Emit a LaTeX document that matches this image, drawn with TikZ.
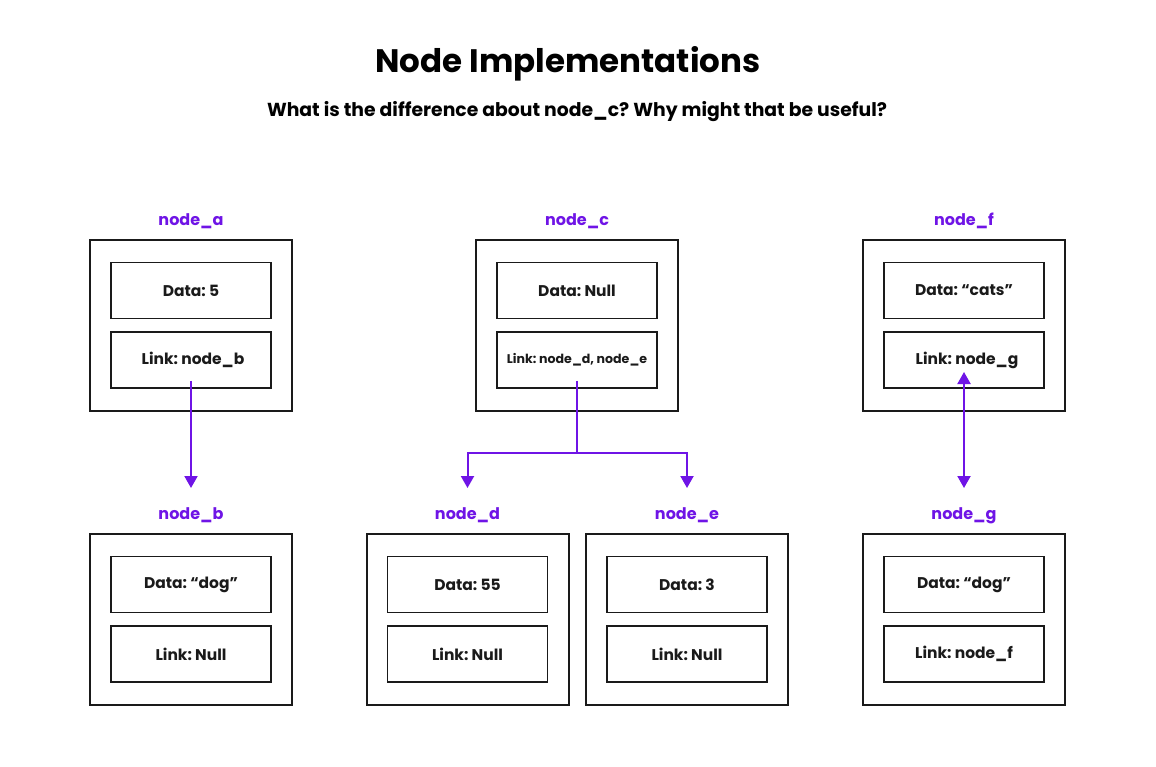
\documentclass[tikz,border=0pt]{standalone}
\usepackage{fontspec}
\setmainfont{Poppins}
\usetikzlibrary{arrows.meta}
\frenchspacing
\definecolor{purp}{HTML}{6F14E6}
\definecolor{ink}{HTML}{1A1A1A}
\tikzset{
  outerbox/.style={draw=ink, line width=2pt, minimum width=202pt, minimum height=171pt, inner sep=0pt},
  fieldbox/.style={draw=ink, line width=1.8pt, minimum width=160pt, minimum height=56pt, inner sep=0pt, text=ink, font=\fontsize{15.5}{18}\selectfont\bfseries},
  smallfield/.style={fieldbox, font=\fontsize{12.6}{15}\selectfont\bfseries},
  nlabel/.style={text=purp, inner sep=0pt, anchor=base, font=\fontsize{16}{19}\selectfont\bfseries},
  conn/.style={draw=purp, line width=2pt, -{Triangle[width=13pt,length=12pt]}},
  dconn/.style={draw=purp, line width=2pt, {Triangle[width=13pt,length=12pt]}-{Triangle[width=13pt,length=12pt]}}
}
\begin{document}
\begin{tikzpicture}[x=1pt,y=-1pt]
\path[fill=white] (0,0) rectangle (1156,766);
\useasboundingbox (0,0) rectangle (1156,766);
% titles
\node[text=black, inner sep=0pt, anchor=base, font=\fontsize{32.5}{38}\selectfont\bfseries] (title) at (568,72) {Node Implementations};
\node[text=black, inner sep=0pt, anchor=base, font=\fontsize{18.8}{22}\selectfont\bfseries] (subtitle) at (577,116) {What is the difference about node\_c? Why might that be useful?};
% node_a
\node[nlabel] (lbla) at (191,225) {node\_a};
\node[outerbox] (oa) at (191,325.5) {};
\node[fieldbox] (da) at (191,290.5) {Data: 5};
\node[fieldbox] (la) at (191,360) {\hspace{4pt}Link: node\_b};
% node_b
\node[nlabel] (lblb) at (191,519) {node\_b};
\node[outerbox] (ob) at (191,619.5) {};
\node[fieldbox] (db) at (191,584.5) {Data: “dog”};
\node[fieldbox] (lb) at (191,654) {Link: Null};
% node_c
\node[nlabel] (lblc) at (577,225) {node\_c};
\node[outerbox] (oc) at (577,325.5) {};
\node[fieldbox] (dc) at (577,290.5) {Data: Null};
\node[smallfield] (lc) at (577,360) {Link: node\_d, node\_e};
% node_d
\node[nlabel] (lbld) at (467.5,519) {node\_d};
\node[outerbox] (od) at (467.5,619.5) {};
\node[fieldbox] (dd) at (467.5,584.5) {Data: 55};
\node[fieldbox] (ld) at (467.5,654) {Link: Null};
% node_e
\node[nlabel] (lble) at (687,519) {node\_e};
\node[outerbox] (oe) at (687,619.5) {};
\node[fieldbox] (de) at (687,584.5) {Data: 3};
\node[fieldbox] (le) at (687,654) {Link: Null};
% node_f
\node[nlabel] (lblf) at (964,225) {node\_f};
\node[outerbox] (of) at (964,325.5) {};
\node[fieldbox] (df) at (964,290.5) {Data: “cats”};
\node[fieldbox] (lf) at (964,360) {\hspace{6pt}Link: node\_g};
% node_g
\node[nlabel] (lblg) at (964,519) {node\_g};
\node[outerbox] (og) at (964,619.5) {};
\node[fieldbox] (dg) at (964,584.5) {Data: “dog”};
\node[fieldbox] (lg) at (964,654) {Link: node\_f};
% connector end points
\coordinate (tipb) at (191,488);
\coordinate (cmid) at (577,453);
\coordinate (tipd) at (467.5,488);
\coordinate (tipe) at (687,488);
\coordinate (tipf) at (964,372);
\coordinate (tipg) at (964,488);
% connectors
\draw[conn] ([yshift=8pt]la.south) -- (tipb);
\draw[draw=purp, line width=2pt] ([yshift=8pt]lc.south) -- (cmid);
\draw[conn] (cmid) -| (tipd);
\draw[conn] (cmid) -| (tipe);
\draw[dconn] (tipf) -- (tipg);
\end{tikzpicture}
\end{document}
